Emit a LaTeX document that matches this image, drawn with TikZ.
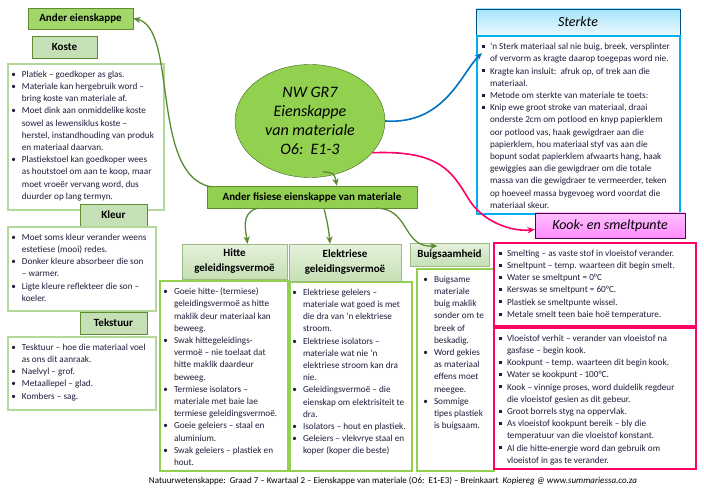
\documentclass[tikz,border=0pt]{standalone}
\usepackage{fontspec}
\setmainfont{Carlito}
\usepackage{enumitem}
\usetikzlibrary{arrows.meta,positioning,shapes.geometric}

\definecolor{leaf}{HTML}{92D050}
\definecolor{leafdark}{HTML}{5E8C31}
\definecolor{mint}{HTML}{C5E0B4}
\definecolor{mintline}{HTML}{B2D89A}
\definecolor{sky}{HTML}{00B0F0}
\definecolor{rose}{HTML}{FF0066}
\definecolor{ink}{HTML}{1E1E3C}
\definecolor{linkgreen}{HTML}{5B8A34}
\definecolor{linkblue}{HTML}{0070C0}

\newcommand{\dotlabel}{\textbullet}
\newcommand{\sqlabel}{\rule[1.8pt]{3pt}{3pt}}
\newcommand{\notes}[3]{\begin{minipage}[t][#2][t]{#1}\raggedright #3\end{minipage}}
\setlist[itemize]{leftmargin=10pt,labelsep=6pt,itemsep=0pt,parsep=0pt,topsep=0pt,partopsep=0pt}

\begin{document}
\begin{tikzpicture}[
  x=1pt, y=-1pt,
  font=\fontsize{9.2}{12.2}\selectfont, text=ink,
  head/.style={draw=leafdark, fill=mint, text=black, inner sep=0pt,
               font=\fontsize{11}{15}\selectfont\bfseries, align=center},
  tab/.style={draw=leafdark!60, top color=mint!45!white, bottom color=mint,
              text=black, inner sep=0pt, align=center,
              font=\fontsize{11}{15}\selectfont\bfseries},
  note/.style={draw=mintline, line width=1.8pt, fill=white, anchor=north west,
               inner xsep=4pt, inner ysep=7pt},
  >={Stealth[length=2.6mm,width=2.2mm]}]
  \useasboundingbox (0,0) rectangle (704,497);

  % left column
  \node[head, fill=leaf!85!white, minimum width=105pt, minimum height=21pt] (other) at (80.5,18.5) {Ander eienskappe};
  \node[head, minimum width=65pt, minimum height=22pt] (koste) at (64.5,47) {Koste};
  \node[note] (kostenote) at (7,63) {\notes{148pt}{132pt}{\begin{itemize}[label=\dotlabel]
    \item Platiek – goedkoper as glas.
    \item Materiale kan hergebruik word –\newline bring koste van materiale af.
    \item Moet dink aan onmiddelike koste\newline sowel as lewensiklus koste –\newline herstel, instandhouding van produk\newline en materiaal daarvan.
    \item Plastiekstoel kan goedkoper wees\newline as houtstoel om aan te koop, maar\newline moet vroeër vervang word, dus\newline duurder op lang termyn.
  \end{itemize}}};
  \node[head, minimum width=67pt, minimum height=22pt] (kleur) at (113.5,215) {Kleur};
  \node[note] (kleurnote) at (7,226) {\notes{140pt}{70pt}{\begin{itemize}[label=\dotlabel]
    \item Moet soms kleur verander weens\newline estetiese (mooi) redes.
    \item Donker kleure absorbeer die son\newline – warmer.
    \item Ligte kleure reflekteer die son –\newline koeler.
  \end{itemize}}};
  \node[head, minimum width=67pt, minimum height=22pt] (tekstuur) at (113.5,323) {Tekstuur};
  \node[note] (tekstuurnote) at (7,336) {\notes{140pt}{59pt}{\begin{itemize}[label=\dotlabel]
    \item Tesktuur – hoe die materiaal voel\newline as ons dit aanraak.
    \item Naelvyl – grof.
    \item Metaallepel – glad.
    \item Kombers – sag.
  \end{itemize}}};

  % centre
  \node[ellipse, draw=leafdark!70!black, fill=leaf, minimum width=150pt, minimum height=113pt,
        inner sep=0pt, align=center, text=black, font=\fontsize{16}{19}\selectfont\itshape] (core)
        at (310,121) {NW GR7\\Eienskappe\\van materiale\\O6:\ \ E1-3};
  \node[head, fill=leaf, minimum width=210pt, minimum height=22pt] (fisies) at (312,197) {Ander fisiese eienskappe van materiale};

  % physical properties
  \node[note, draw=leaf, line width=2pt, inner xsep=3pt] (hittenote) at (159,280) {\notes{122pt}{176pt}{\begin{itemize}[label=\dotlabel, leftmargin=11pt]
    \item Goeie hitte- (termiese)\newline geleidingsvermoë as hitte\newline maklik deur materiaal kan\newline beweeg.
    \item Swak hittegeleidings-\newline vermoë – nie toelaat dat\newline hitte maklik daardeur\newline beweeg.
    \item Termiese isolators –\newline materiale met baie lae\newline termiese geleidingsvermoë.
    \item Goeie geleiers – staal en\newline aluminium.
    \item Swak geleiers – plastiek en\newline hout.
  \end{itemize}}};
  \node[tab, minimum width=105pt, minimum height=35pt] (hitte) at (234.5,261.5) {Hitte\\geleidingsvermoë};
  \node[note, draw=leaf, line width=2pt, inner xsep=3pt] (eleknote) at (289,281) {\notes{116pt}{175pt}{\begin{itemize}[label=\dotlabel]
    \item Elektriese geleiers –\newline materiale wat goed is met\newline die dra van ‘n elektriese\newline stroom.
    \item Elektriese isolators –\newline materiale wat nie ‘n\newline elektriese stroom kan dra\newline nie.
    \item Geleidingsvermoë – die\newline eienskap om elektrisiteit te\newline dra.
    \item Isolators – hout en plastiek.
    \item Geleiers – vlekvrye staal en\newline koper (koper die beste)
  \end{itemize}}};
  \node[tab, minimum width=112pt, minimum height=37pt] (elek) at (345,262.5) {Elektriese\\geleidingsvermoë};
  \node[tab, minimum width=79pt, minimum height=23pt] (buig) at (449.5,254.5) {Buigsaamheid};
  \node[note, draw=leaf, line width=2pt, inner xsep=3pt] (buignote) at (416,268) {\notes{71pt}{188pt}{\begin{itemize}[label=\dotlabel, leftmargin=14pt]
    \item Buigsame\newline materiale\newline buig maklik\newline sonder om te\newline breek of\newline beskadig.
    \item Word gekies\newline as materiaal\newline effens moet\newline meegee.
    \item Sommige\newline tipes plastiek\newline is buigsaam.
  \end{itemize}}};

  % right column
  \node[draw=linkblue!70!black, top color=sky!35!white, bottom color=sky!8!white, minimum width=204pt,
        minimum height=26pt, inner sep=0pt, text=black, font=\fontsize{14}{16}\selectfont\itshape] (sterkte) at (578,22) {Sterkte};
  \node[note, draw=sky, line width=2pt] (sterktenote) at (476,35) {\notes{195pt}{164pt}{\begin{itemize}[label=\sqlabel, leftmargin=9pt, labelsep=5pt]
    \item ‘n Sterk materiaal sal nie buig, breek, versplinter\newline of vervorm as kragte daarop toegepas word nie.
    \item Kragte kan insluit:\ \ afruk op, of trek aan die\newline materiaal.
    \item Metode om sterkte van materiale te toets:
    \item Knip ewe groot stroke van materiaal, draai\newline onderste 2cm om potlood en knyp papierklem\newline oor potlood vas, haak gewigdraer aan die\newline papierklem, hou materiaal styf vas aan die\newline bopunt sodat papierklem afwaarts hang, haak\newline gewiggies aan die gewigdraer om die totale\newline massa van die gewigdraer te vermeerder, teken\newline op hoeveel massa bygevoeg word voordat die\newline materiaal skeur.
  \end{itemize}}};
  \node[draw=violet!60!black, top color=magenta!25!white, bottom color=magenta!45!white, minimum width=150pt,
        minimum height=25pt, inner sep=0pt, text=black, font=\fontsize{14}{16}\selectfont\itshape] (kook) at (610,225.5) {Kook- en smeltpunte};
  \node[note, draw=rose, line width=2pt] (smeltnote) at (493,242) {\notes{194pt}{69pt}{\begin{itemize}[label=\sqlabel, leftmargin=9pt, labelsep=5pt]
    \item Smelting – as vaste stof in vloeistof verander.
    \item Smeltpunt – temp. waarteen dit begin smelt.
    \item Water se smeltpunt = 0°C
    \item Kerswas se smeltpunt = 60°C.
    \item Plastiek se smeltpunte wissel.
    \item Metale smelt teen baie hoë temperature.
  \end{itemize}}};
  \node[note, draw=rose, line width=2pt] (kooknote) at (493,327) {\notes{194pt}{127pt}{\begin{itemize}[label=\sqlabel, leftmargin=9pt, labelsep=5pt]
    \item Vloeistof verhit – verander van vloeistof na\newline gasfase – begin kook.
    \item Kookpunt – temp. waarteen dit begin kook.
    \item Water se kookpunt - 100°C.
    \item Kook – vinnige proses, word duidelik regdeur\newline die vloeistof gesien as dit gebeur.
    \item Groot borrels styg na oppervlak.
    \item As vloeistof kookpunt bereik – bly die\newline temperatuur van die vloeistof konstant.
    \item Al die hitte-energie word dan gebruik om\newline vloeistof in gas te verander.
  \end{itemize}}};

  \node[text=black, font=\fontsize{9}{11}\selectfont] (foot) at (393,481)
    {Natuurwetenskappe:\ \ Graad 7 – Kwartaal 2 – Eienskappe van materiale (O6:\ \ E1-E3) – Breinkaart\ \ \textit{Kopiereg @ www.summariessa.co.za}};

  % links
  \draw[->, linkgreen, line width=1.3pt] ([xshift=4pt,yshift=-1pt]fisies.north west) .. controls (150,175) and (178,28) .. (other.east);
  \draw[->, linkgreen, line width=1.3pt] ([xshift=13pt,yshift=6pt]core.south) .. controls (334,173) .. ([xshift=25pt]fisies.north);
  \draw[->, linkgreen, line width=1.3pt] ([xshift=-54pt]fisies.south) .. controls (240,212) and (246,232) .. ([xshift=13pt]hitte.north);
  \draw[->, linkgreen, line width=1.3pt] ([xshift=12pt]fisies.south) .. controls (328,225) and (329,232) .. ([xshift=-15pt]elek.north);
  \draw[->, linkgreen, line width=1.3pt] ([xshift=64pt]fisies.south) .. controls (410,208) and (402,248) .. ([xshift=-12pt,yshift=-3pt]buig.north);
  \draw[->, linkblue, line width=1.6pt] (core.east) .. controls (445,125) and (462,72) .. ([xshift=6pt,yshift=-18pt]sterktenote.north west);
  \draw[->, rose, line width=1.6pt] (core.-27) .. controls (440,150) and (452,172) .. (468,198)
    .. controls (482,222) and (512,232) .. ([yshift=-4pt]kook.west);
\end{tikzpicture}
\end{document}
